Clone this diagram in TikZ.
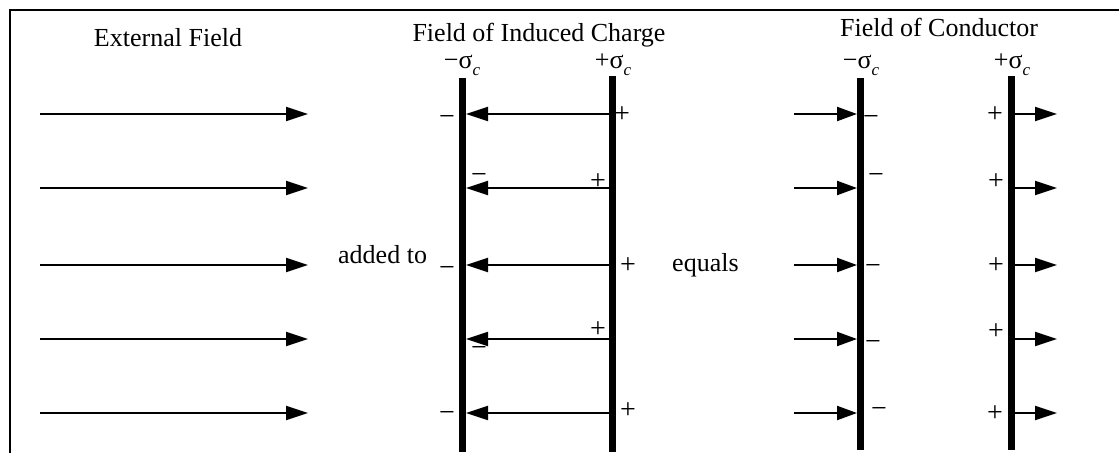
\documentclass[tikz,border=0pt]{standalone}
\usepackage{fontspec}
\setmainfont{Liberation Serif}
\usetikzlibrary{arrows.meta}
\newcommand\mysig[1]{#1σ\raisebox{-0.3em}{\fontsize{17}{18}\selectfont\itshape c}}
\begin{document}
\begin{tikzpicture}[x=1pt,y=-1pt,
  fieldarrow/.style={line width=2.2pt,-{Triangle[length=22pt,width=14pt]}},
  plate/.style={line width=7pt},
  border/.style={line width=2.5pt},
  title/.style={font=\fontsize{26}{30}\selectfont,anchor=base,inner sep=0pt},
  sign/.style={font=\fontsize{28}{30}\selectfont,inner sep=0pt},
]
\useasboundingbox (0,0) rectangle (1119,453);
% border (top and left only)
\coordinate (bl) at (10,453);
\coordinate (tl) at (10,10);
\coordinate (tr) at (1119,10);
\draw[border] (bl) -- (tl) -- (tr);

% titles
\node[title] (t1) at (168,46) {External Field};
\node[title] (t2) at (539,41) {Field of Induced Charge};
\node[title] (t3) at (939,36) {Field of Conductor};
\node[title] (s1) at (462,68) {\mysig{−}};
\node[title] (s2) at (613,68) {\mysig{+}};
\node[title] (s3) at (861,68) {\mysig{−}};
\node[title] (s4) at (1012,68) {\mysig{+}};
\node[title,anchor=base west] (add) at (338,263) {added to};
\node[title,anchor=base west] (eq) at (672,271) {equals};

% plates
\coordinate (p1t) at (462,78);  \coordinate (p1b) at (462,452);
\coordinate (p2t) at (612,76);  \coordinate (p2b) at (612,452);
\coordinate (p3t) at (860,78);  \coordinate (p3b) at (860,450);
\coordinate (p4t) at (1011,76); \coordinate (p4b) at (1011,450);
\draw[plate] (p1t) -- (p1b);
\draw[plate] (p2t) -- (p2b);
\draw[plate] (p3t) -- (p3b);
\draw[plate] (p4t) -- (p4b);

% arrows
\foreach \y [count=\i] in {114,188,265,339,413}{
  \coordinate (e\i s) at (40,\y);   \coordinate (e\i t) at (308,\y);
  \coordinate (i\i s) at (612,\y);  \coordinate (i\i t) at (466,\y);
  \coordinate (c\i s) at (794,\y);  \coordinate (c\i t) at (857,\y);
  \coordinate (d\i s) at (1014,\y); \coordinate (d\i t) at (1057,\y);
  \draw[fieldarrow] (e\i s) -- (e\i t);
  \draw[fieldarrow] (i\i s) -- (i\i t);
  \draw[fieldarrow,-{Triangle[length=20pt,width=14pt]}] (c\i s) -- (c\i t);
  \draw[fieldarrow] (d\i s) -- (d\i t);
}

% charge signs: induced
\foreach \x/\y [count=\i] in {447/120,479/178,447/271,479/351,447/416}
  \node[sign] (im\i) at (\x,\y) {−};
\foreach \x/\y [count=\i] in {622/115,598/182,628/266,598/330,628/411}
  \node[sign] (ip\i) at (\x,\y) {+};
% charge signs: conductor
\foreach \x/\y [count=\i] in {871/120,876/178,873/269,873/345,879/412}
  \node[sign] (cm\i) at (\x,\y) {−};
\foreach \x/\y [count=\i] in {995/115,996/182,996/266,996/332,995/414}
  \node[sign] (cp\i) at (\x,\y) {+};
\end{tikzpicture}
\end{document}
